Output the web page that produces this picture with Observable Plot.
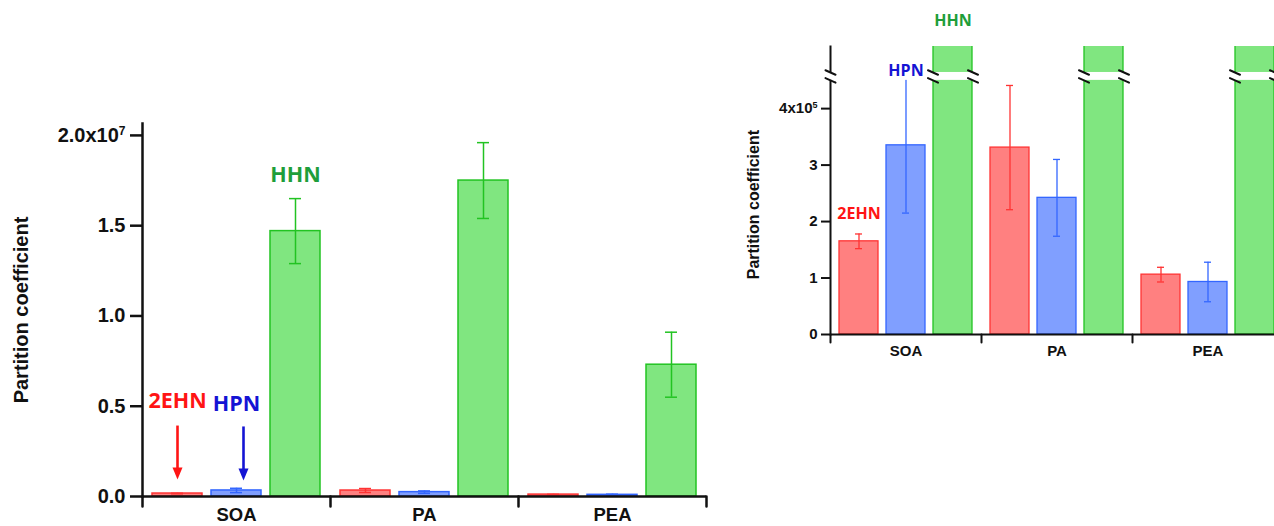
<!DOCTYPE html>
<html><head><meta charset="utf-8">
<script src="https://cdn.jsdelivr.net/npm/d3@7"></script>
<script src="https://cdn.jsdelivr.net/npm/@observablehq/plot@0.6"></script>
<style>
html,body{margin:0;padding:0;background:#fff;}
#wrap{display:flex;align-items:flex-start;width:1274px;height:526px;overflow:hidden;background:#fff;}
#wrap svg{flex-shrink:0;display:block;}
</style></head><body><div id="wrap"></div>
<script>
// ---------- data ----------
const groups = ["SOA", "PA", "PEA"];
const compounds = ["2EHN", "HPN", "HHN"];
const mean2EHN = [1.65e5, 3.31e5, 1.06e5];
const err2EHN  = [0.13e5, 1.10e5, 0.13e5];
const meanHPN  = [3.35e5, 2.42e5, 0.93e5];
const errHPN   = [1.20e5, 0.68e5, 0.35e5];
const meanHHN  = [1.47e7, 1.75e7, 0.73e7];
const errHHN   = [0.18e7, 0.21e7, 0.18e7];

// tick values / labels
const yTicksMain = [0, 0.5e7, 1.0e7, 1.5e7, 2.0e7];
const yLabelsMain = ["0.0", "0.5", "1.0", "1.5", "2.0x10^7"];
const yTicksInset = [0, 1e5, 2e5, 3e5, 4e5];
const yLabelsInset = ["0", "1", "2", "3", "4x10^5"];
const yTitle = "Partition coefficient";

// scale extents and axis break (inset)
const yMaxMain = 2.066e7;
const yMaxInset = 5.1e5;
const insetBreak = [4.5e5, 4.64e5];

// annotation anchors (data units)
const labelsMain = [
  {group: "SOA", compound: "2EHN", y: 5.26e6},
  {group: "SOA", compound: "HPN", y: 5.1e6},
  {group: "SOA", compound: "HHN", y: 1.778e7}
];
const arrowsMain = [
  {group: "SOA", compound: "2EHN", from: 3.93e6, head: 1.55e6, to: 0.94e6},
  {group: "SOA", compound: "HPN", from: 3.88e6, head: 1.5e6, to: 0.89e6}
];
const labelsInset = [
  {group: "SOA", compound: "2EHN", y: 2.14e5},
  {group: "SOA", compound: "HPN", y: 4.675e5},
  {group: "SOA", compound: "HHN", y: 5.56e5}
];
const insetTitleY = 2.3e5;

// ---------- styles ----------
const fillOf   = {"2EHN": "#ff8080", "HPN": "#809fff", "HHN": "#80e680"};
const strokeOf = {"2EHN": "#ff3333", "HPN": "#3366ff", "HHN": "#22c322"};
const labelOf  = {"2EHN": "#ff1414", "HPN": "#1414d4", "HHN": "#1e9e3a"};
const axisFont = "'Liberation Sans', Arial, sans-serif";
const annFont = "'Open Sans', sans-serif";

// ---------- table ----------
const means = {"2EHN": mean2EHN, "HPN": meanHPN, "HHN": meanHHN};
const errs = {"2EHN": err2EHN, "HPN": errHPN, "HHN": errHHN};
const rows = groups.flatMap((g, i) => compounds.map(c => ({
  group: g, compound: c, value: means[c][i], err: errs[c][i]
})));
const breakRows = groups.flatMap(g => insetBreak.map(y => ({group: g, compound: "HHN", y})));

function supify(svg) {
  d3.select(svg).selectAll("text").each(function () {
    const t = this.textContent;
    if (t.includes("^")) {
      const [a, b] = t.split("^");
      const s = d3.select(this);
      s.text(a);
      s.append("tspan").attr("dy", "-0.6em").attr("font-size", "0.6em").text(b);
    }
  });
  return svg;
}

function barMarks(opts) {
  const {sw, capInset, clip} = opts;
  return [
    Plot.barY(rows, {fx: "group", x: "compound", y: "value",
      fill: d => fillOf[d.compound], stroke: d => strokeOf[d.compound], strokeWidth: sw, clip}),
    Plot.ruleX(rows, {fx: "group", x: "compound", y1: d => d.value - d.err, y2: d => d.value + d.err,
      stroke: d => strokeOf[d.compound], strokeWidth: sw, clip}),
    Plot.tickY(rows, {fx: "group", x: "compound", y: d => d.value - d.err,
      stroke: d => strokeOf[d.compound], strokeWidth: sw, insetLeft: capInset, insetRight: capInset, clip}),
    Plot.tickY(rows, {fx: "group", x: "compound", y: d => d.value + d.err,
      stroke: d => strokeOf[d.compound], strokeWidth: sw, insetLeft: capInset, insetRight: capInset, clip})
  ];
}

// ---------- main (left) chart ----------
const main = Plot.plot({
  width: 720, height: 526,
  marginLeft: 141, marginRight: 14, marginTop: 123, marginBottom: 30,
  fx: {domain: groups, padding: 0, label: null},
  x: {domain: compounds, padding: 0.16, axis: null, label: null},
  y: {domain: [0, yMaxMain], label: null},
  style: {fontFamily: axisFont, background: "white", overflow: "visible"},
  marks: [
    ...barMarks({sw: 1.5, capInset: 19, clip: false}),
    Plot.ruleY([0], {stroke: "#111", strokeWidth: 2.5}),
    Plot.frame({anchor: "left", facetAnchor: "left", stroke: "#111", strokeWidth: 2.5}),
    Plot.vector([0], {frameAnchor: "bottom-left", rotate: 180, anchor: "start", length: 10, r: 0, stroke: "#111", strokeWidth: 2.5}),
    Plot.vector([0], {frameAnchor: "bottom-right", facetAnchor: "right", rotate: 180, anchor: "start", length: 10, r: 0, stroke: "#111", strokeWidth: 2.5}),
    Plot.axisY({ticks: yTicksMain, tickFormat: d => yLabelsMain[yTicksMain.indexOf(d)],
      tickSize: 12, tickPadding: 5, fontSize: 20, fontWeight: "bold", strokeWidth: 2.5, stroke: "#111", fill: "#111", label: null}),
    Plot.axisFx({anchor: "bottom", tickSize: 0, tickPadding: 11, fontSize: 18.5, fontWeight: "bold", fill: "#111", label: null}),
    Plot.text([yTitle], {frameAnchor: "left", facetAnchor: "left", rotate: -90, dx: -121,
      textAnchor: "middle", lineAnchor: "middle", fontSize: 20, fontWeight: "bold", fill: "#111"}),
    Plot.text(labelsMain, {fx: "group", x: "compound", y: "y", text: "compound",
      fill: d => labelOf[d.compound], fontFamily: annFont, fontWeight: "bold", fontSize: 21.5}),
    Plot.link(arrowsMain.filter(d => d.compound === "2EHN"), {fx: "group", x1: "compound", x2: "compound", y1: "from", y2: "head",
      stroke: d => labelOf[d.compound], strokeWidth: 2.6}),
    Plot.vector(arrowsMain.filter(d => d.compound === "2EHN"), {fx: "group", x: "compound", y: "to", rotate: 180, anchor: "end",
      length: 12, r: 5, shape: "spike", fill: d => labelOf[d.compound], stroke: "none"}),
    Plot.link(arrowsMain.filter(d => d.compound === "HPN"), {fx: "group", x1: "compound", x2: "compound", y1: "from", y2: "head",
      stroke: d => labelOf[d.compound], strokeWidth: 2.6, dx: 7}),
    Plot.vector(arrowsMain.filter(d => d.compound === "HPN"), {fx: "group", x: "compound", y: "to", rotate: 180, anchor: "end",
      length: 12, r: 5, shape: "spike", fill: d => labelOf[d.compound], stroke: "none", dx: 7})
  ]
});

// ---------- inset (right) chart ----------
const inset = Plot.plot({
  width: 570, height: 380,
  marginLeft: 109, marginRight: 6.5, marginTop: 46, marginBottom: 46,
  fx: {domain: groups, padding: 0, label: null},
  x: {domain: compounds, padding: 0.16, axis: null, label: null},
  y: {domain: [0, yMaxInset], label: null},
  style: {fontFamily: axisFont, background: "white", overflow: "visible"},
  marks: [
    ...barMarks({sw: 1.3, capInset: 16, clip: true}),
    Plot.ruleY([0], {stroke: "#111", strokeWidth: 2}),
    Plot.frame({anchor: "left", facetAnchor: "left", stroke: "#111", strokeWidth: 2}),
    Plot.rect([insetBreak], {y1: d => d[0], y2: d => d[1], fill: "white", insetLeft: -4}),
    Plot.vector(insetBreak, {y: d => d, frameAnchor: "left", facetAnchor: "left", rotate: 114, anchor: "middle",
      length: 11, r: 0, stroke: "#111", strokeWidth: 2}),
    Plot.vector(breakRows, {fx: "group", x: "compound", y: "y", dx: -20, rotate: 114, anchor: "middle",
      length: 11, r: 0, stroke: "#111", strokeWidth: 2}),
    Plot.vector(breakRows, {fx: "group", x: "compound", y: "y", dx: 20, rotate: 114, anchor: "middle",
      length: 11, r: 0, stroke: "#111", strokeWidth: 2}),
    Plot.vector([0], {frameAnchor: "bottom-left", rotate: 180, anchor: "start", length: 8, r: 0, stroke: "#111", strokeWidth: 2}),
    Plot.axisY({ticks: yTicksInset, tickFormat: d => yLabelsInset[yTicksInset.indexOf(d)],
      tickSize: 9, tickPadding: 4, fontSize: 15, fontWeight: "bold", strokeWidth: 2, stroke: "#111", fill: "#111", label: null}),
    Plot.axisFx({anchor: "bottom", tickSize: 0, tickPadding: 11, fontSize: 15, fontWeight: "bold", fill: "#111", label: null}),
    Plot.text([{t: yTitle, y: insetTitleY}], {text: "t", y: "y", frameAnchor: "left", facetAnchor: "left", rotate: -90, dx: -76.5,
      textAnchor: "middle", lineAnchor: "middle", fontSize: 16, fontWeight: "bold", fill: "#111"}),
    Plot.text(labelsInset, {fx: "group", x: "compound", y: "y", text: "compound",
      fill: d => labelOf[d.compound], fontFamily: annFont, fontWeight: "bold", fontSize: 16})
  ]
});

const wrap = document.getElementById("wrap");
wrap.append(supify(main), supify(inset));
</script>
</body></html>
